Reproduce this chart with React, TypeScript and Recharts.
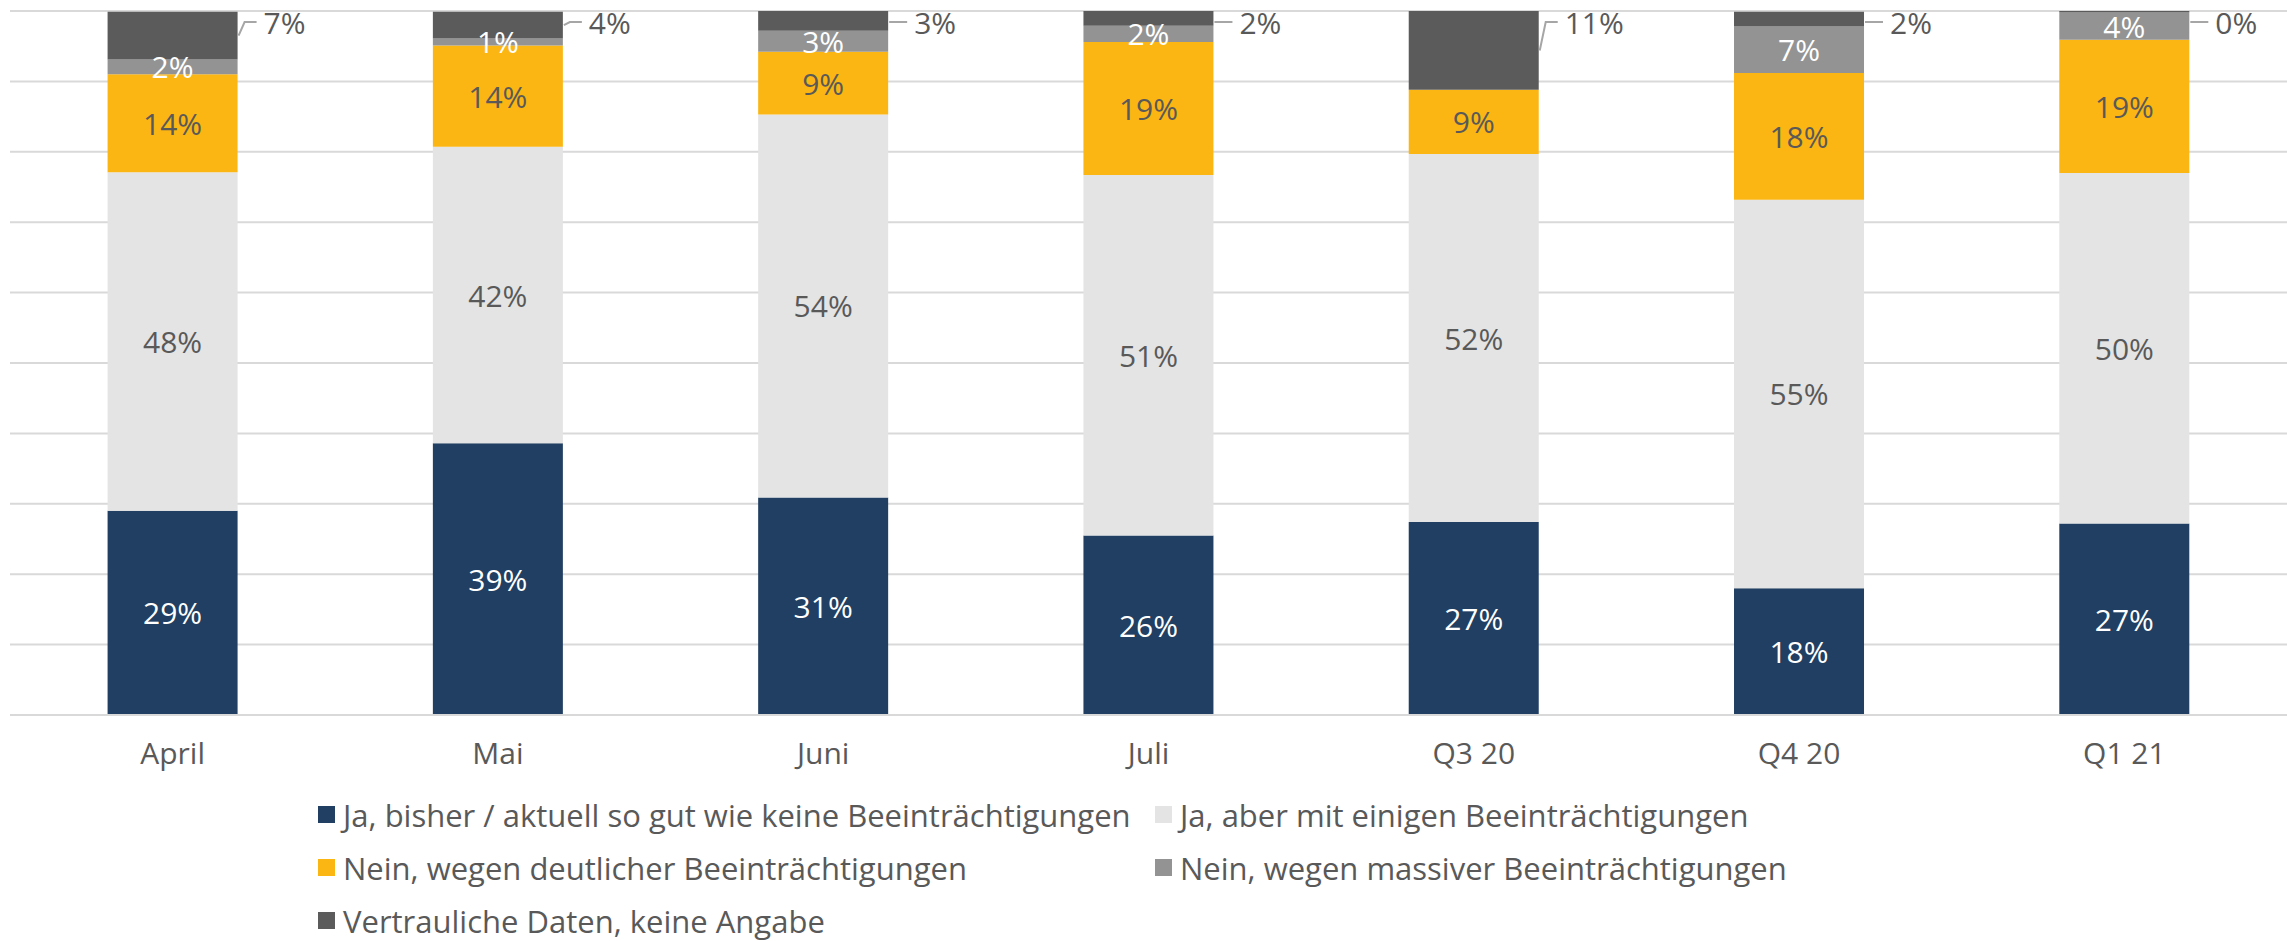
import { BarChart, Bar, XAxis, YAxis, CartesianGrid, LabelList } from "recharts"

const categories = ["April", "Mai", "Juni", "Juli", "Q3 20", "Q4 20", "Q1 21"]
const keineBeeintraechtigung = [29.0, 38.6, 30.9, 25.5, 27.4, 18.0, 27.2]
const einigeBeeintraechtigungen = [48.1, 42.1, 54.4, 51.2, 52.3, 55.2, 49.8]
const deutlicheBeeintraechtigungen = [13.9, 14.4, 8.9, 18.9, 9.1, 18.0, 18.9]
const massiveBeeintraechtigungen = [2.1, 1.0, 3.0, 2.3, 0, 6.6, 3.9]
const keineAngabe = [6.8, 3.8, 2.8, 2.1, 11.2, 2.1, 0.2]
const yTicks = [0, 10, 20, 30, 40, 50, 60, 70, 80, 90, 100]

const FONT = "'Open Sans', 'Noto Sans', sans-serif"
const TEXT = "#595959"
const FS = 30

const series = [
  { key: "keine", name: "Ja, bisher / aktuell so gut wie keine Beeinträchtigungen", color: "#203F62", label: "#FFFFFF" },
  { key: "einige", name: "Ja, aber mit einigen Beeinträchtigungen", color: "#E4E4E4", label: TEXT },
  { key: "deutlich", name: "Nein, wegen deutlicher Beeinträchtigungen", color: "#FBB614", label: TEXT },
  { key: "massiv", name: "Nein, wegen massiver Beeinträchtigungen", color: "#939393", label: "#FFFFFF" },
  { key: "angabe", name: "Vertrauliche Daten, keine Angabe", color: "#5B5B5B", label: TEXT },
]

const data = categories.map((name, i) => ({
  name,
  keine: keineBeeintraechtigung[i],
  einige: einigeBeeintraechtigungen[i],
  deutlich: deutlicheBeeintraechtigungen[i],
  massiv: massiveBeeintraechtigungen[i],
  angabe: keineAngabe[i],
}))

const pct = (v: number) => `${Math.round(v)}%`

function innerLabel(color: string) {
  return (props: any) => {
    const { x, y, width, height, value } = props
    if (!value) return null
    return (
      <text
        x={x + width / 2}
        y={y + height / 2}
        textAnchor="middle"
        dominantBaseline="central"
        fill={color}
        fontSize={FS}
        fontFamily={FONT}
      >
        {pct(value)}
      </text>
    )
  }
}

// labels of the top series sit outside the bar, with a small leader line
function outsideLabel(props: any) {
  const { x, y, width, height, value } = props
  const right = x + width
  const labelY = 22
  const mid = Math.max(y + height / 2, labelY)
  return (
    <g>
      <path
        d={`M${right + 1},${mid} L${right + 7},${labelY} L${right + 19},${labelY}`}
        stroke="#A6A6A6"
        strokeWidth={2}
        fill="none"
      />
      <text
        x={right + 26}
        y={labelY}
        textAnchor="start"
        dominantBaseline="central"
        fill={TEXT}
        fontSize={FS}
        fontFamily={FONT}
      >
        {pct(value ?? 0)}
      </text>
    </g>
  )
}

export default function App() {
  return (
    <div style={{ position: "absolute", left: 0, top: 0, width: 2287, height: 941, background: "#fff", overflow: "hidden" }}>
      <BarChart
        width={2287}
        height={789}
        data={data}
        margin={{ top: 11, right: 0, bottom: 0, left: 10 }}
        barCategoryGap="30%"
      >
        <CartesianGrid vertical={false} stroke="#D9D9D9" strokeWidth={2} />
        <XAxis
          dataKey="name"
          height={74}
          tickLine={false}
          tickSize={0}
          tickMargin={28}
          axisLine={{ stroke: "#D9D9D9", strokeWidth: 2 }}
          tick={{ fill: TEXT, fontSize: FS, fontFamily: FONT }}
        />
        <YAxis hide domain={[0, 100]} ticks={yTicks} />
        {series.map((s, i) => (
          <Bar key={s.key} dataKey={s.key} name={s.name} stackId="a" fill={s.color} isAnimationActive={false}>
            <LabelList dataKey={s.key} content={i === series.length - 1 ? outsideLabel : innerLabel(s.label)} />
          </Bar>
        ))}
      </BarChart>
      <div
        style={{
          position: "absolute",
          left: 318,
          top: 788,
          width: 1674,
          display: "flex",
          flexWrap: "wrap",
          fontFamily: FONT,
          fontSize: 31,
          color: TEXT,
        }}
      >
        {series.map((s) => (
          <div key={s.key} style={{ width: 837, height: 53, display: "flex", alignItems: "center", whiteSpace: "nowrap" }}>
            <span style={{ width: 17, height: 17, background: s.color, marginRight: 8, flexShrink: 0 }} />
            {s.name}
          </div>
        ))}
      </div>
    </div>
  )
}
